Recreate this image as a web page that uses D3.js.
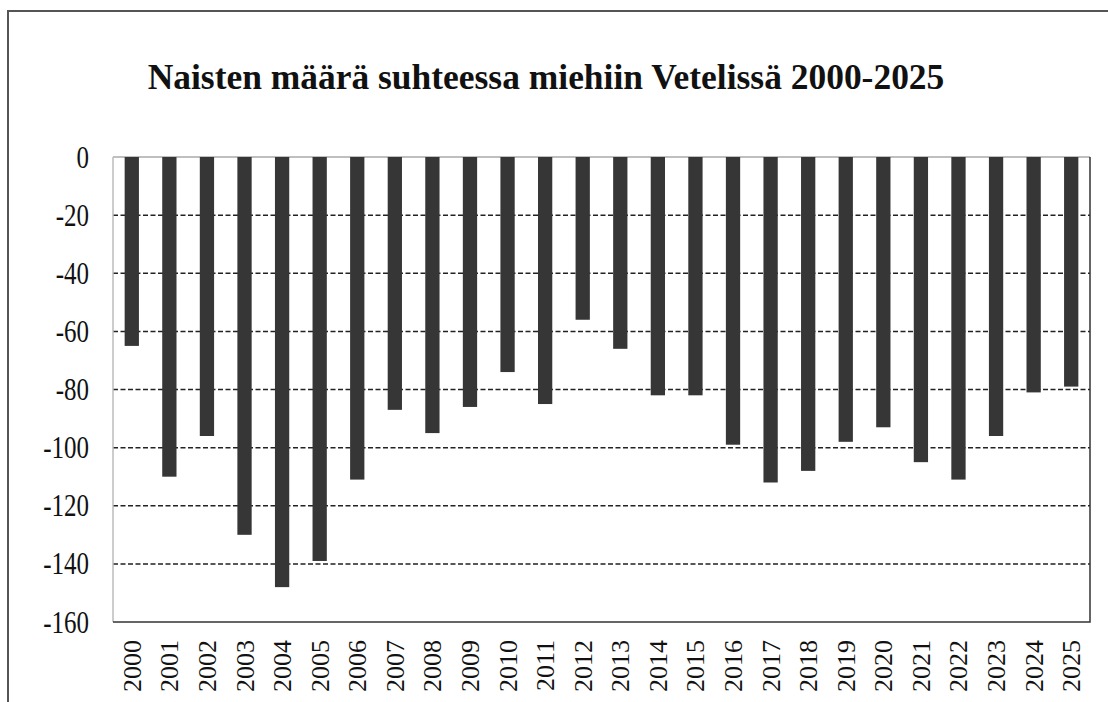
<!DOCTYPE html>
<html>
<head>
<meta charset="utf-8">
<script src="https://cdn.jsdelivr.net/npm/d3@7"></script>
<style>
  body { margin: 0; background: #fff; }
  svg { display: block; }
  svg text { font-family: "Liberation Serif", "Times New Roman", "DejaVu Serif", serif; }
</style>
</head>
<body>
<div class="chart"></div>
<script>
// data
const years = ["2000","2001","2002","2003","2004","2005","2006","2007","2008","2009","2010","2011","2012",
               "2013","2014","2015","2016","2017","2018","2019","2020","2021","2022","2023","2024","2025"];
const values = [-65,-110,-96,-130,-148,-139,-111,-87,-95,-86,-74,-85,-56,
                -66,-82,-82,-99,-112,-108,-98,-93,-105,-111,-96,-81,-79];
const yTicks = [0,-20,-40,-60,-80,-100,-120,-140,-160];
const title = "Naisten määrä suhteessa miehiin Vetelissä 2000-2025";

const data = years.map((y,i)=>({year:y, value:values[i]}));

const width = 1108;
const height = 702;
const plotLeft = 113, plotRight = 1090, plotTop = 157, plotBottom = 622;

const svg = d3.select('.chart')
  .append('svg')
  .attr('width', width)
  .attr('height', height)

// outer frame
svg.append("path")
  .attr("d", `M8,${height} V11 H${width}`)
  .attr("fill", "none")
  .attr("stroke", "#555")
  .attr("stroke-width", 2)

// title
const t = svg.append("text")
  .text(title)
  .attr("font-weight", "bold")
  .attr("font-size", 36)
  .attr("text-anchor", "middle")
  .attr("fill", "#111")
const tw = t.node().getComputedTextLength();
t.attr("transform", `translate(546,89) scale(${797/tw},1)`)

const x = d3.scaleBand()
  .domain(years)
  .range([plotLeft, plotRight])
  .paddingInner(0.62)
  .paddingOuter(0.31)

const y = d3.scaleLinear()
  .domain([-160, 0])
  .range([plotBottom, plotTop])

// grid lines
svg.selectAll("line.grid")
  .data(yTicks.filter(d => d < 0 && d > -160))
  .enter()
  .append("line")
  .attr("class", "grid")
  .attr("x1", plotLeft)
  .attr("x2", plotRight)
  .attr("y1", d => y(d))
  .attr("y2", d => y(d))
  .attr("stroke", "#222")
  .attr("stroke-width", 1.5)
  .attr("stroke-dasharray", "5,2.5")

// plot area border
svg.append("line")
  .attr("x1", plotLeft).attr("x2", plotRight)
  .attr("y1", y(0)).attr("y2", y(0))
  .attr("stroke", "#aaa").attr("stroke-width", 1.5)
svg.append("line")
  .attr("x1", plotLeft).attr("x2", plotLeft)
  .attr("y1", y(0)).attr("y2", y(-160))
  .attr("stroke", "#bbb").attr("stroke-width", 1.5)
svg.append("path")
  .attr("d", `M${plotLeft},${y(-160)} H${plotRight} V${y(0)}`)
  .attr("fill", "none")
  .attr("stroke", "#333").attr("stroke-width", 1.5)

// bars
svg.selectAll("rect")
  .data(data)
  .enter()
  .append("rect")
  .attr("x", d => x(d.year))
  .attr("width", x.bandwidth())
  .attr("y", y(0))
  .attr("height", d => y(d.value) - y(0))
  .attr("fill", "#363636")

// y axis
const yAxis = svg.append("g")
  .attr("transform", `translate(${plotLeft},0)`)
  .call(d3.axisLeft(y).tickValues(yTicks).tickSize(0).tickPadding(24).tickFormat(d => String(d)))
yAxis.select(".domain").remove()
yAxis.attr("font-family", null)
yAxis.selectAll("text")
  .attr("font-size", 25)
  .attr("fill", "#111")
  .attr("transform", "scale(1,1.25)")

// x labels
svg.selectAll("text.year")
  .data(years)
  .enter()
  .append("text")
  .attr("class", "year")
  .text(d => d)
  .attr("font-size", 26)
  .attr("fill", "#111")
  .attr("text-anchor", "end")
  .attr("transform", d => `translate(${x(d) + x.bandwidth()/2 + 9},640) rotate(-90)`)
</script>
</body>
</html>
